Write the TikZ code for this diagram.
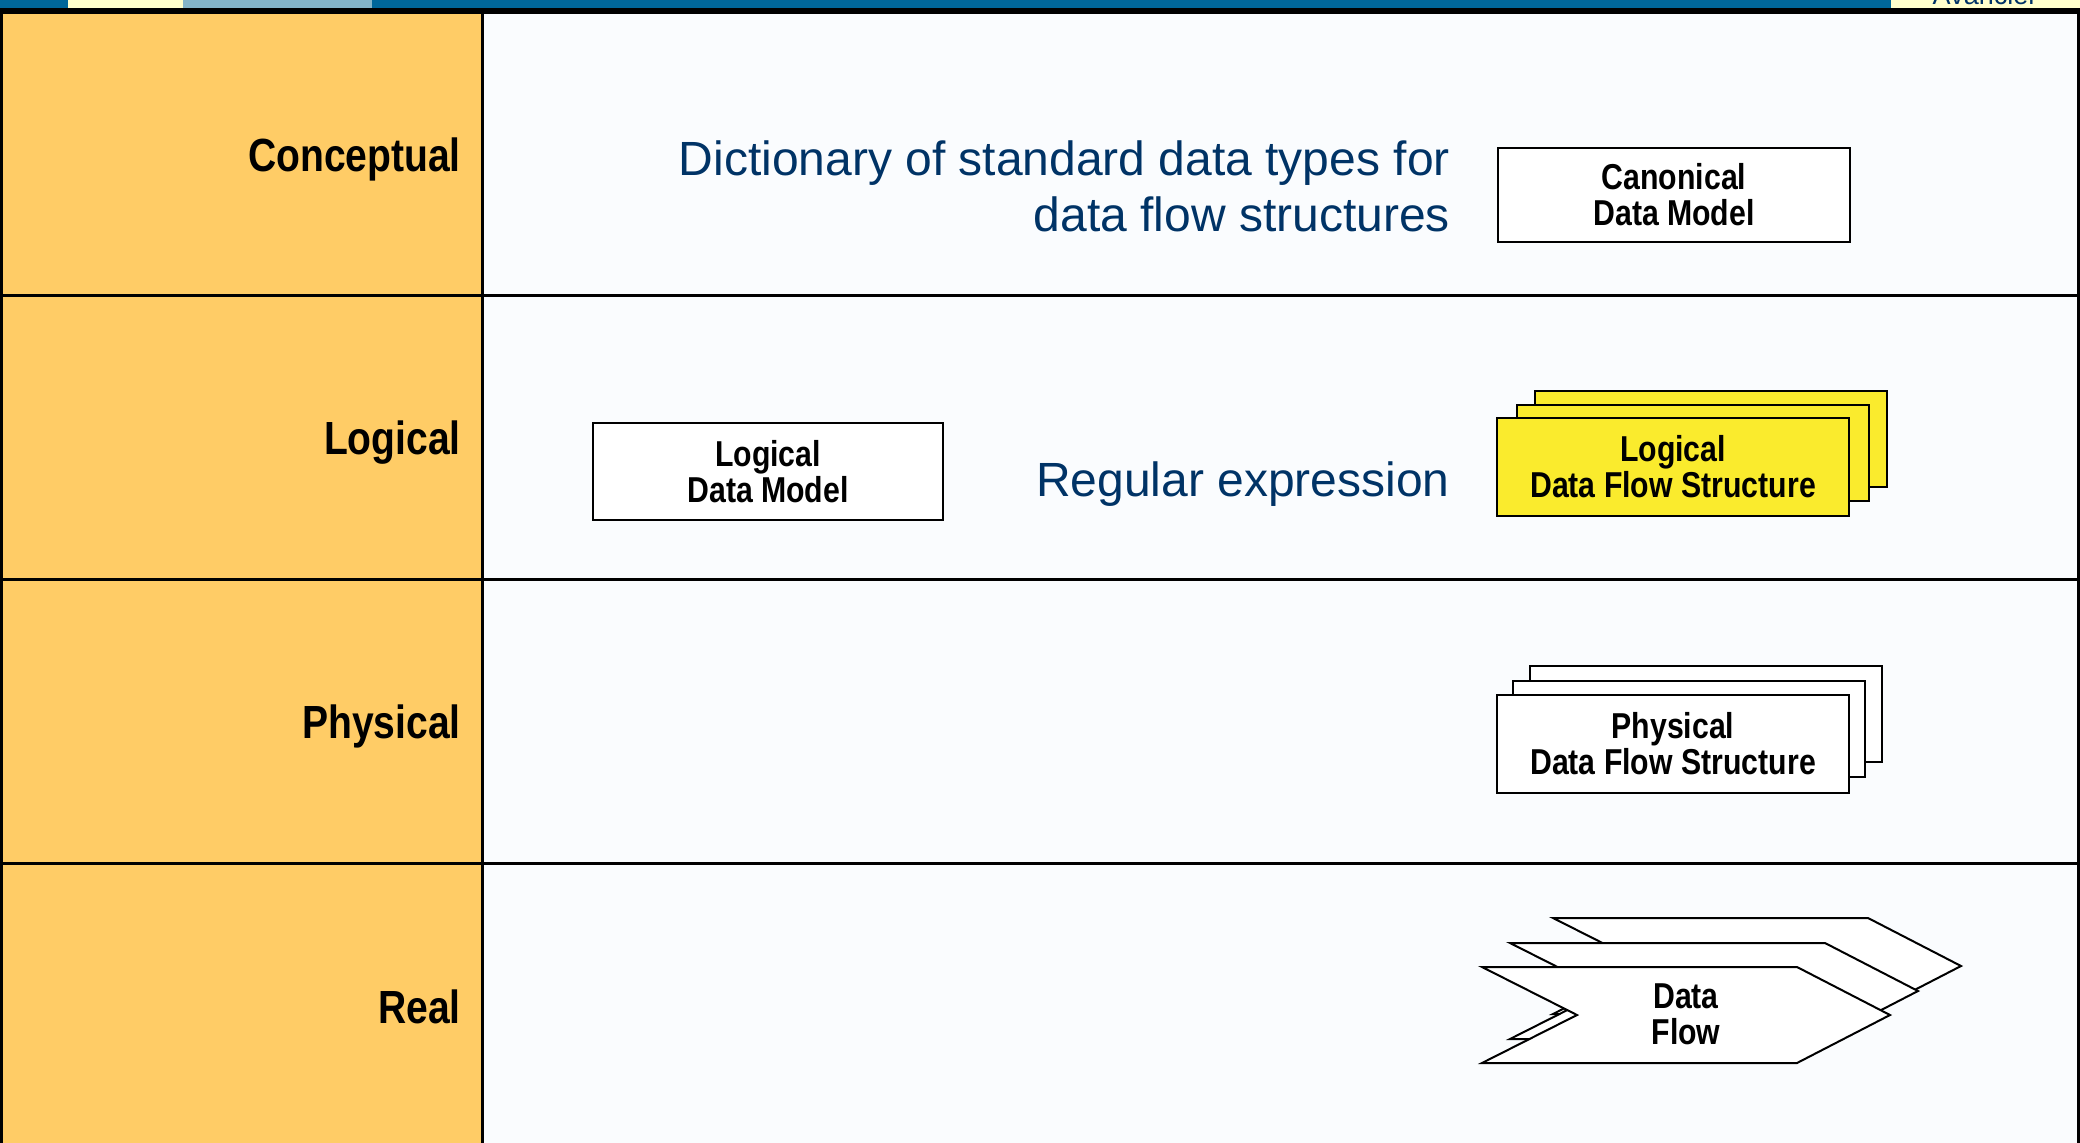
\documentclass[tikz,border=0pt]{standalone}
\usepackage{fontspec}
\setmainfont{Liberation Sans}
\newfontfamily\condbold[FakeStretch=0.84]{Liberation Sans Bold}

\definecolor{barblue}{RGB}{0,102,153}
\definecolor{barcream}{RGB}{255,255,204}
\definecolor{barsteel}{RGB}{132,180,200}
\definecolor{layerorange}{RGB}{255,204,102}
\definecolor{paper}{RGB}{250,252,254}
\definecolor{notenavy}{RGB}{0,51,102}
\definecolor{flowyellow}{RGB}{250,235,45}

\tikzset{
  layerlabel/.style={font=\condbold\fontsize{46.5}{50}\selectfont, anchor=base east, inner sep=0pt},
  modelbox/.style={draw=black, line width=2pt, fill=white, minimum width=352pt,
    minimum height=96pt, align=center, inner sep=0pt,
    font=\condbold\fontsize{36}{36}\selectfont},
  sheet/.style={draw=black, line width=2pt, fill=white, minimum width=352pt,
    minimum height=96pt, inner sep=0pt},
  note/.style={text=notenavy, font=\fontsize{48}{56}\selectfont, anchor=base east, inner sep=0pt},
  gridline/.style={line width=3pt, draw=black},
  flowsheet/.pic={
    \draw[line width=2pt, fill=white, line join=miter]
      (0,0) -- (315,0) -- (408,48) -- (315,96) -- (0,96) -- (95,48) -- cycle;
  }
}

\begin{document}
\begin{tikzpicture}[x=1pt, y=-1pt]
  \useasboundingbox (0,0) rectangle (2080,1143);
  \fill[paper] (0,0) rectangle (2080,1143);

  % header bar
  \fill[barblue] (0,0) rectangle (2080,8);
  \fill[barcream] (68,0) rectangle (183,8);
  \fill[barsteel] (183,0) rectangle (372,8);
  \fill[barcream] (1891,0) rectangle (2080,8);
  \begin{scope}
    \clip (1891,0) rectangle (2080,8);
    \node[text=notenavy, font=\fontsize{27}{30}\selectfont, anchor=base, inner sep=0pt]
      (brand) at (1985,5) {Avancier};
  \end{scope}
  \fill[black] (0,8) rectangle (2080,14);

  % layer column and table rules
  \fill[layerorange] (3,14) rectangle (481,1143);
  \fill[black] (0,14) rectangle (3,1143);
  \fill[black] (2077,14) rectangle (2080,1143);
  \draw[gridline] (482.5,14) -- (482.5,1143);
  \foreach \yy in {295,579,863} {
    \draw[gridline] (0,\yy) -- (2080,\yy);
  }

  % layer names
  \node[layerlabel] (conceptual) at (461,171) {Conceptual};
  \node[layerlabel] (logical) at (461,454) {Logical};
  \node[layerlabel] (physical) at (461,738) {Physical};
  \node[layerlabel] (real) at (461,1023) {Real};

  % conceptual layer
  \node[note] (dict1) at (1450,175) {Dictionary of standard data types for};
  \node[note] (dict2) at (1450,231) {data flow structures};
  \node[modelbox, minimum height=94pt] (cdm) at (1674,195) {Canonical\\Data Model};

  % logical layer
  \node[modelbox, minimum width=350pt, minimum height=97pt] (ldm) at (768,471.5) {Logical\\Data Model};
  \node[note] (regex) at (1450,496) {Regular expression};
  \node[sheet, fill=flowyellow] (ldfs back) at (1711,439) {};
  \node[sheet, fill=flowyellow] (ldfs mid) at (1693,453) {};
  \node[modelbox, fill=flowyellow, minimum height=98pt] (ldfs) at (1673,467) {Logical\\Data Flow Structure};

  % physical layer
  \node[sheet] (pdfs back) at (1706,714) {};
  \node[sheet] (pdfs mid) at (1689,729) {};
  \node[modelbox, minimum height=98pt] (pdfs) at (1673,744) {Physical\\Data Flow Structure};

  % real layer
  \pic at (1553,918) {flowsheet};
  \pic at (1510,943) {flowsheet};
  \pic at (1482,967) {flowsheet};
  \node[align=center, inner sep=0pt, font=\condbold\fontsize{36}{36}\selectfont]
    (dataflow) at (1686,1014) {Data\\Flow};
\end{tikzpicture}
\end{document}
